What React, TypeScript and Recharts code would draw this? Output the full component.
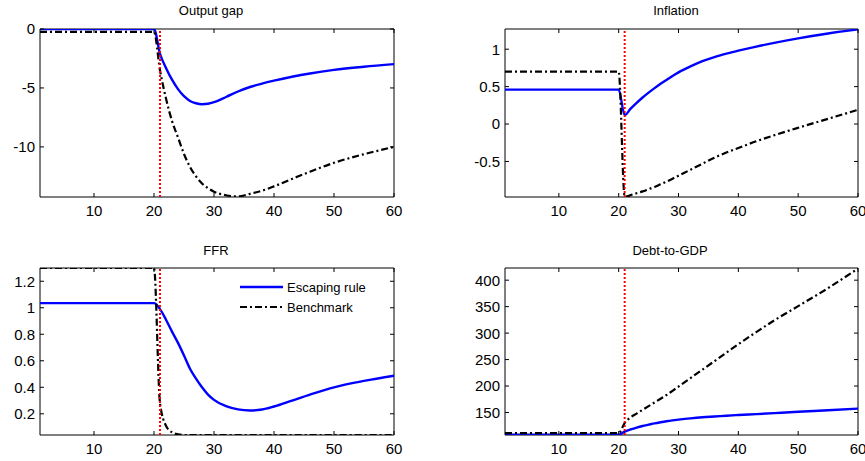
import React from 'react';
import { LineChart, Line, XAxis, YAxis, ReferenceLine, ReferenceArea, Legend } from 'recharts';

const FONT = "'Liberation Sans', Arial, Helvetica, sans-serif";

const periods = [1, 20, 21, 22, 23, 24, 25, 26, 27, 28, 29, 30, 32, 34, 36, 38, 40, 43, 46, 50, 55, 60];
const xTicks = [10, 20, 30, 40, 50, 60];

const outputGapEscaping = [0, 0, -2.1, -3.3, -4.3, -5.1, -5.7, -6.1, -6.3, -6.38, -6.34, -6.21, -5.77, -5.3, -4.92, -4.63, -4.38, -4.05, -3.77, -3.47, -3.2, -2.98];
const outputGapBenchmark = [-0.25, -0.25, -3.5, -5.9, -7.8, -9.2, -10.6, -11.7, -12.5, -13.1, -13.5, -13.8, -14.1, -14.2, -13.98, -13.72, -13.35, -12.72, -12.1, -11.35, -10.62, -10.0];

const inflationEscaping = [0.46, 0.46, 0.12, 0.205, 0.283, 0.355, 0.42, 0.48, 0.537, 0.59, 0.642, 0.69, 0.77, 0.84, 0.895, 0.94, 0.98, 1.035, 1.085, 1.145, 1.21, 1.265];
const inflationBenchmark = [0.7, 0.7, -0.97, -0.95, -0.925, -0.9, -0.87, -0.84, -0.805, -0.77, -0.73, -0.69, -0.61, -0.53, -0.45, -0.38, -0.32, -0.23, -0.15, -0.05, 0.07, 0.19];

const ffrEscaping = [1.035, 1.035, 0.99, 0.91, 0.82, 0.735, 0.64, 0.54, 0.465, 0.4, 0.345, 0.305, 0.257, 0.233, 0.225, 0.232, 0.255, 0.3, 0.345, 0.4, 0.448, 0.487];
const ffrBenchmark = [1.3, 1.3, 0.28, 0.11, 0.06, 0.045, 0.04, 0.04, 0.04, 0.04, 0.04, 0.04, 0.04, 0.04, 0.04, 0.04, 0.04, 0.04, 0.04, 0.04, 0.04, 0.04];

const debtEscaping = [108, 108, 114, 118, 121.5, 124.5, 127, 129.5, 131.6, 133.5, 135.1, 136.5, 139, 141, 142.5, 144, 145.3, 147, 148.8, 151.3, 154.2, 157.3];
const debtBenchmark = [111, 111, 130, 141, 148, 155, 162, 169, 176, 183, 191, 199, 215, 231, 247, 263, 279, 302, 324, 351, 385, 422];

const outputGapTicks = [-10, -5, 0];
const inflationTicks = [-0.5, 0, 0.5, 1];
const ffrTicks = [0.2, 0.4, 0.6, 0.8, 1, 1.2];
const debtTicks = [150, 200, 250, 300, 350, 400];

const seriesNames = ['Escaping rule', 'Benchmark'];

const BENCH_DASH = '7 3 2 3';
const TICK_LEN = 4;
const X_LABEL_GAP = 8;
const Y_LABEL_GAP = 5;

function build(esc: number[], bench: number[]) {
  return periods.map((t, i) => ({ t, esc: esc[i], bench: bench[i] }));
}

function LegendBox() {
  return (
    <div style={{ fontFamily: FONT, fontSize: 13, color: '#000' }}>
      {seriesNames.map((name, i) => (
        <div key={name} style={{ display: 'flex', alignItems: 'center', height: 20 }}>
          <svg width={44} height={6} style={{ marginRight: 3 }}>
            <line
              x1={0}
              y1={3}
              x2={43}
              y2={3}
              stroke={i === 0 ? '#0000ff' : '#000'}
              strokeWidth={i === 0 ? 2.4 : 2.2}
              strokeDasharray={i === 0 ? undefined : BENCH_DASH}
            />
          </svg>
          <span>{name}</span>
        </div>
      ))}
    </div>
  );
}

type PanelProps = {
  left: number;
  top: number;
  width: number;
  height: number;
  box: [number, number, number, number];
  esc: number[];
  bench: number[];
  yDomain: [number, number];
  yTicks: number[];
  title: string;
  titleX: number;
  titleTop: number;
  legend?: boolean;
};

function Panel(p: PanelProps) {
  const data = build(p.esc, p.bench);
  const [x0, y0, x1, y1] = p.box;

  const XTick = (props: any) => {
    const { x, payload } = props;
    return (
      <g>
        <line x1={x} y1={y1} x2={x} y2={y1 - TICK_LEN} stroke="#000" strokeWidth={1} />
        <line x1={x} y1={y0} x2={x} y2={y0 + TICK_LEN} stroke="#000" strokeWidth={1} />
        <text
          x={x}
          y={y1 + X_LABEL_GAP}
          dy="0.72em"
          textAnchor="middle"
          fill="#000"
          fontSize={15}
          fontFamily={FONT}
        >
          {payload.value}
        </text>
      </g>
    );
  };

  const YTick = (props: any) => {
    const { y, payload } = props;
    return (
      <g>
        <line x1={x0} y1={y} x2={x0 + TICK_LEN} y2={y} stroke="#000" strokeWidth={1} />
        <line x1={x1} y1={y} x2={x1 - TICK_LEN} y2={y} stroke="#000" strokeWidth={1} />
        <text
          x={x0 - Y_LABEL_GAP}
          y={y}
          dy="0.36em"
          textAnchor="end"
          fill="#000"
          fontSize={15}
          fontFamily={FONT}
        >
          {payload.value}
        </text>
      </g>
    );
  };

  return (
    <div style={{ position: 'absolute', left: p.left, top: p.top, width: p.width, height: p.height }}>
      <LineChart
        width={p.width}
        height={p.height}
        data={data}
        margin={{ top: y0, right: p.width - x1, bottom: 0, left: 0 }}
      >
        <XAxis
          dataKey="t"
          type="number"
          domain={[1, 60]}
          ticks={xTicks}
          interval={0}
          allowDataOverflow
          height={p.height - y1}
          axisLine={false}
          tickLine={false}
          tickSize={0}
          tickMargin={0}
          tick={XTick}
        />
        <YAxis
          type="number"
          domain={p.yDomain}
          ticks={p.yTicks}
          interval={0}
          allowDataOverflow
          width={x0}
          axisLine={false}
          tickLine={false}
          tickSize={0}
          tickMargin={0}
          tick={YTick}
        />
        <ReferenceArea
          x1={1}
          x2={60}
          y1={p.yDomain[0]}
          y2={p.yDomain[1]}
          fill="none"
          fillOpacity={0}
          stroke="#000"
          strokeWidth={1}
          ifOverflow="visible"
        />
        <Line
          dataKey="esc"
          name={seriesNames[0]}
          type="monotone"
          stroke="#0000ff"
          strokeWidth={2.4}
          dot={false}
          isAnimationActive={false}
        />
        <Line
          dataKey="bench"
          name={seriesNames[1]}
          type="monotone"
          stroke="#000000"
          strokeWidth={2.2}
          strokeDasharray={BENCH_DASH}
          dot={false}
          isAnimationActive={false}
        />
        <ReferenceLine x={21} stroke="#ff0000" strokeWidth={2} strokeDasharray="2 2" />
        {p.legend ? (
          <Legend
            layout="horizontal"
            verticalAlign="middle"
            align="center"
            content={() => <LegendBox />}
            wrapperStyle={{ position: 'absolute', left: 240, top: 47, width: 140 }}
          />
        ) : null}
      </LineChart>
      <div
        style={{
          position: 'absolute',
          left: p.titleX,
          top: p.titleTop,
          transform: 'translateX(-50%)',
          fontFamily: FONT,
          fontSize: 13,
          lineHeight: '13px',
          color: '#000',
          whiteSpace: 'nowrap',
        }}
      >
        {p.title}
      </div>
    </div>
  );
}

export default function App() {
  return (
    <div style={{ position: 'absolute', left: 0, top: 0, width: 865, height: 461, background: '#fff', overflow: 'hidden' }}>
      <Panel
        left={0}
        top={0}
        width={432}
        height={230}
        box={[40, 29, 394, 197]}
        esc={outputGapEscaping}
        bench={outputGapBenchmark}
        yDomain={[-14.25, 0]}
        yTicks={outputGapTicks}
        title="Output gap"
        titleX={211}
        titleTop={4}
      />
      <Panel
        left={432}
        top={0}
        width={433}
        height={230}
        box={[73, 29, 426, 197]}
        esc={inflationEscaping}
        bench={inflationBenchmark}
        yDomain={[-0.975, 1.27]}
        yTicks={inflationTicks}
        title="Inflation"
        titleX={244}
        titleTop={4}
      />
      <Panel
        left={0}
        top={230}
        width={432}
        height={231}
        box={[40, 38, 394, 205]}
        esc={ffrEscaping}
        bench={ffrBenchmark}
        yDomain={[0.04, 1.3]}
        yTicks={ffrTicks}
        title="FFR"
        titleX={216}
        titleTop={14}
        legend
      />
      <Panel
        left={432}
        top={230}
        width={433}
        height={231}
        box={[73, 38, 426, 205]}
        esc={debtEscaping}
        bench={debtBenchmark}
        yDomain={[107.5, 423]}
        yTicks={debtTicks}
        title="Debt-to-GDP"
        titleX={238}
        titleTop={14}
      />
    </div>
  );
}
